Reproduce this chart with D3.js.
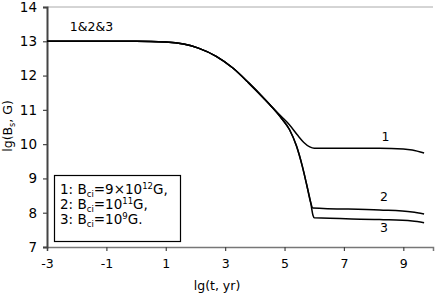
<!DOCTYPE html>
<html>
<head>
	<meta charset="utf-8">
	<title>lg(Bs) vs lg(t)</title>
	<script src="https://cdn.jsdelivr.net/npm/d3@7"></script>
	<style>
		body { margin: 0; background: #fff; }
		text { font-family: "DejaVu Sans", Verdana, sans-serif; font-size: 12.5px; fill: #000; }
	</style>
</head>
<body>
<div id="chart"></div>
<script>
// ---- data ----
var xTicks = [-3, -1, 1, 3, 5, 7, 9];
var yTicks = [7, 8, 9, 10, 11, 12, 13, 14];

// common part of all three tracks
var lgTCommon = [-3, 0, 1, 1.6, 2.1, 2.7, 3.26, 3.8, 4.3, 4.6];
var lgBCommon = [13, 13, 12.98, 12.92, 12.8, 12.56, 12.22, 11.78, 11.34, 11.06];

var lgT1 = [4.9, 5.17, 5.45, 5.65, 5.85, 6.0, 8.2, 9.0, 9.3, 9.7];
var lgB1 = [10.8, 10.56, 10.25, 10.05, 9.92, 9.88, 9.88, 9.86, 9.83, 9.74];

var lgT2 = [4.9, 5.17, 5.4, 5.6, 5.75, 5.88, 5.95, 8.2, 9.3, 9.7];
var lgB2 = [10.75, 10.42, 9.95, 9.35, 8.8, 8.3, 8.14, 8.08, 8.02, 7.96];

var lgT3 = [4.9, 5.17, 5.4, 5.6, 5.75, 5.88, 5.96, 6.0, 8.2, 9.3, 9.7];
var lgB3 = [10.75, 10.42, 9.95, 9.35, 8.8, 8.3, 7.92, 7.85, 7.80, 7.76, 7.71];

var curveLabels = ["1", "2", "3"];
var curveLabelPos = [[8.4, 10.1], [8.35, 8.35], [8.35, 7.45]];

// ---- layout ----
var width = 436, height = 295;
var margin = {top: 7, right: 3, bottom: 48, left: 47};

var svg = d3.select("#chart").append("svg")
	.attr("width", width)
	.attr("height", height);

var x = d3.scaleLinear().domain([-3, 10]).range([margin.left, width - margin.right]);
var y = d3.scaleLinear().domain([7, 14]).range([height - margin.bottom, margin.top]);

// top border line (light gray)
svg.append("line")
	.attr("x1", x(-3)).attr("x2", x(10))
	.attr("y1", y(14)).attr("y2", y(14))
	.attr("stroke", "#aaa").attr("stroke-width", 1);

// x axis
var xAxis = svg.append("g")
	.attr("transform", "translate(0," + y(7) + ")")
	.call(d3.axisBottom(x).tickValues(xTicks).tickSize(4).tickPadding(8).tickFormat(function(d) { return String(d); }));
xAxis.select(".domain").attr("stroke", "#777").attr("stroke-width", 1.5);
xAxis.selectAll(".tick line").attr("stroke", "#444").attr("stroke-width", 1.2);
xAxis.selectAll("text").style("font-size", "12.5px").attr("fill", "#000");

// y axis
var yAxis = svg.append("g")
	.attr("transform", "translate(" + x(-3) + ",0)")
	.call(d3.axisLeft(y).tickValues(yTicks).tickSize(4).tickPadding(6).tickFormat(function(d) { return String(d); }));
yAxis.select(".domain").attr("stroke", "#444").attr("stroke-width", 2);
yAxis.selectAll(".tick line").attr("stroke", "#444").attr("stroke-width", 1.2);
yAxis.selectAll("text").style("font-size", "13.5px").attr("fill", "#000");

// axis titles
svg.append("text")
	.attr("x", 217).attr("y", 290)
	.attr("text-anchor", "middle")
	.text("lg(t, yr)");

var yt = svg.append("text")
	.attr("transform", "translate(12," + 126 + ") rotate(-90)")
	.attr("text-anchor", "middle");
yt.append("tspan").text("lg(B");
yt.append("tspan").attr("font-size", "8px").attr("dy", 3).text("s");
yt.append("tspan").attr("dy", -3).text(", G)");

// curves
var line = d3.line()
	.x(function(d) { return x(d[0]); })
	.y(function(d) { return y(d[1]); })
	.curve(d3.curveMonotoneX);

function track(ts, bs) {
	var pts = d3.zip(lgTCommon, lgBCommon);
	return pts.concat(d3.zip(ts, bs));
}

[track(lgT1, lgB1), track(lgT2, lgB2), track(lgT3, lgB3)].forEach(function(pts) {
	svg.append("path")
		.datum(pts)
		.attr("d", line)
		.attr("fill", "none")
		.attr("stroke", "#000")
		.attr("stroke-width", 1.5);
});

// curve labels
svg.append("text")
	.attr("x", x(-1.5)).attr("y", y(13.3))
	.attr("text-anchor", "middle")
	.text("1&2&3");

svg.selectAll(".clabel")
	.data(curveLabels)
	.enter().append("text")
	.attr("class", "clabel")
	.attr("x", function(d, i) { return x(curveLabelPos[i][0]); })
	.attr("y", function(d, i) { return y(curveLabelPos[i][1]); })
	.attr("text-anchor", "middle")
	.text(function(d) { return d; });

// legend box
var lg = svg.append("g");
lg.append("rect")
	.attr("x", 54.5).attr("y", 175.5)
	.attr("width", 126).attr("height", 66)
	.attr("fill", "#fff").attr("stroke", "#000").attr("stroke-width", 1.2);

var legendRows = [
	{num: "1: B", sub: "ci", pre: "=9\u00d710", sup: "12", post: "G,"},
	{num: "2: B", sub: "ci", pre: "=10", sup: "11", post: "G,"},
	{num: "3: B", sub: "ci", pre: "=10", sup: "9", post: "G."}
];
legendRows.forEach(function(r, i) {
	var t = lg.append("text")
		.attr("x", 60).attr("y", 194 + i * 15)
		.style("font-size", "13.5px");
	t.append("tspan").text(r.num);
	t.append("tspan").attr("dy", 3).style("font-size", "8.5px").text(r.sub);
	t.append("tspan").attr("dy", -3).text(r.pre);
	t.append("tspan").attr("dy", -5).style("font-size", "8.5px").text(r.sup);
	t.append("tspan").attr("dy", 5).text(r.post);
});
</script>
</body>
</html>
